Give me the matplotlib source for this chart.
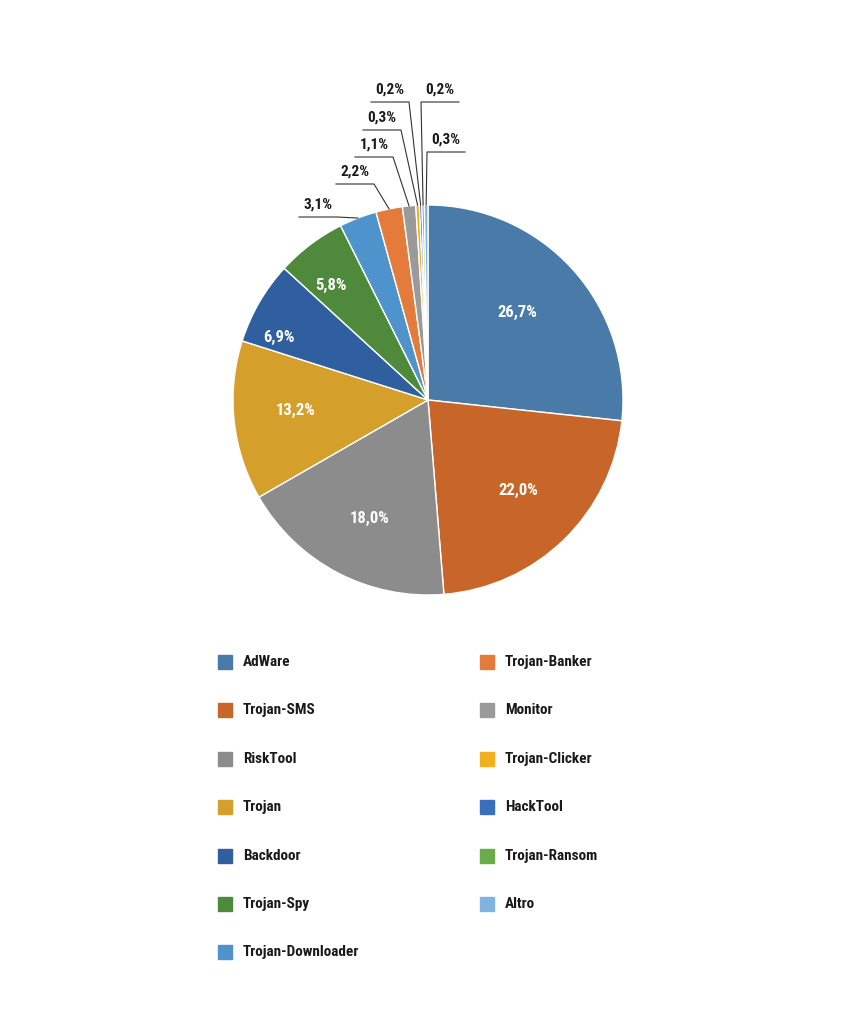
import matplotlib
matplotlib.use("Agg")
import matplotlib.pyplot as plt
from matplotlib.patches import Rectangle
import numpy as np

categories = ["AdWare","Trojan-SMS","RiskTool","Trojan","Backdoor","Trojan-Spy","Trojan-Downloader",
              "Trojan-Banker","Monitor","Trojan-Clicker","HackTool","Trojan-Ransom","Altro"]
values = [26.7,22.0,18.0,13.2,6.9,5.8,3.1,2.2,1.1,0.3,0.2,0.2,0.3]
labels = ["26,7%","22,0%","18,0%","13,2%","6,9%","5,8%","3,1%","2,2%","1,1%","0,3%","0,2%","0,2%","0,3%"]
colors = ["#4a7ba8","#c8662a","#8c8c8c","#d4a02b","#2f5f9e","#4f8a3c","#4f93cc",
          "#e57b3a","#9a9a9a","#f0b020","#3a6fbf","#6aab4a","#80b4e0"]

FONT = ["Liberation Sans Narrow", "Roboto Condensed", "DejaVu Sans"]
W, H = 856, 1024
fig = plt.figure(figsize=(W/100, H/100), dpi=100)
cx, cy, R = 428, 400, 195
ax = fig.add_axes([(cx-R)/W, (H-cy-R)/H, 2*R/W, 2*R/H])
ax.pie(values, colors=colors, startangle=90, counterclock=False, radius=1,
       wedgeprops=dict(edgecolor="white", linewidth=1.0))
ax.set_xlim(-1, 1); ax.set_ylim(-1, 1); ax.axis("off")

def d(px, py):
    return ((px-cx)/R, (cy-py)/R)

inside = {0:(517,312),1:(518,490),2:(370,518),3:(296,410),4:(279,337),5:(331,285)}
for i, p in inside.items():
    x, y = d(*p)
    ax.text(x, y, labels[i], color="white", ha="center", va="center", fontsize=12,
            fontweight="bold", family=FONT)

outside = {6:(318,205),7:(355,172),8:(374,145),9:(382,118),10:(390,90),11:(440,90),12:(446,140)}
total = sum(values)
cum = np.cumsum([0]+values)
for i, p in outside.items():
    mid = 90 - 360*(cum[i]+values[i]/2)/total
    ex, ey = np.cos(np.radians(mid)), np.sin(np.radians(mid))
    tx, ty = d(*p)
    ax.text(tx, ty, labels[i], color="#1a1a1a", ha="center", va="center", fontsize=11,
            fontweight="bold", family=FONT, clip_on=False)
    uy = ty - 12/R
    hw = 19/R
    if i in (11, 12):
        xs = [tx+hw, tx-hw, ex]
    else:
        xs = [tx-hw, tx+hw, ex]
    ax.plot(xs, [uy, uy, ey], color="#333333", lw=0.8, clip_on=False)

left = categories[:7]; right = categories[7:]
rows = [662,710,759,807,856,904,952]
for col, (names, sx) in enumerate([(left, 225), (right, 487)]):
    for j, name in enumerate(names):
        k = categories.index(name)
        y = rows[j]
        fig.patches.append(Rectangle(((sx-7)/W, (H-y-7)/H), 14/W, 14/H,
                                     transform=fig.transFigure, color=colors[k]))
        fig.text((sx+18)/W, (H-y)/H, name, ha="left", va="center", fontsize=11,
                 fontweight="bold", family=FONT, color="#1a1a1a")

fig.savefig("out.png", dpi=100, facecolor="white")
